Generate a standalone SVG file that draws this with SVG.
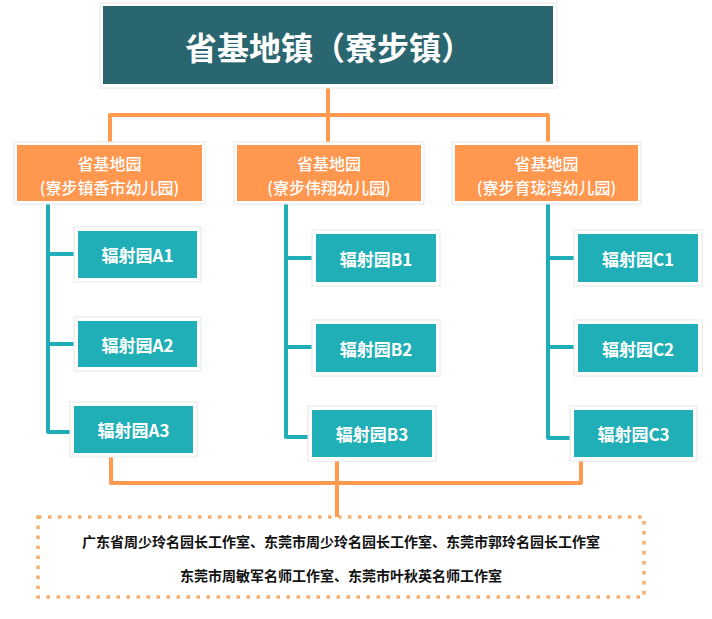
<svg xmlns="http://www.w3.org/2000/svg" width="712" height="619" viewBox="0 0 712 619">
<style>
.frame{fill:#ffffff;stroke:#e6e6e6;stroke-width:1}
.top{fill:#2a6670}
.org{fill:#ff974f}
.teal{fill:#20afb6}
.t{font-family:"Noto Sans CJK SC","Noto Sans",sans-serif;fill:#ffffff;text-anchor:middle;dominant-baseline:central}
.tt{font-size:32px;font-weight:bold}
.to{font-size:16px;font-weight:500}
.tb{font-size:17px;font-weight:bold}
.bt{font-family:"Noto Sans CJK SC","Noto Sans",sans-serif;fill:#111111;text-anchor:middle;dominant-baseline:central;font-size:14px;font-weight:bold}
.co{fill:none;stroke:#ff9a4f;stroke-width:4;stroke-linejoin:round;stroke-linecap:butt}
.ct{fill:none;stroke:#20afb6;stroke-width:4;stroke-linejoin:round;stroke-linecap:butt}
.dot{fill:none;stroke:#f6ad6e;stroke-width:3.5;stroke-dasharray:3.5 6.5}
</style>
<g id="connectors">
<path class="co" d="M328,86 V115 M110,143 V115 H548 V143 M328,115 V143"/>
<path class="ct" d="M48,202 V432 H76 M48,254 H78 M48,344 H78"/>
<path class="ct" d="M286,202 V437 H314 M286,258 H316 M286,347 H316"/>
<path class="ct" d="M548,202 V438 H576 M548,258 H578 M548,347 H578"/>
<path class="co" d="M111,455 V483 H581 V459 M337,459 V517"/>
</g>
<g id="root">
<rect class="frame" x="100" y="3" width="457" height="85"/>
<rect class="top" x="103" y="6" width="450" height="78"/>
<text class="t tt" x="329" y="46">省基地镇（寮步镇）</text>
</g>
<g id="kgA">
<rect class="frame" x="14" y="142" width="191" height="62"/>
<rect class="org" x="17" y="145" width="185" height="56"/>
<text class="t to" x="109.5" y="163.2">省基地园</text>
<text class="t to" x="109.5" y="186.6">(寮步镇香市幼儿园)</text>
</g>
<g id="kgB">
<rect class="frame" x="234" y="142" width="190" height="62"/>
<rect class="org" x="237" y="145" width="184" height="56"/>
<text class="t to" x="329" y="163.2">省基地园</text>
<text class="t to" x="329" y="186.6">(寮步伟翔幼儿园)</text>
</g>
<g id="kgC">
<rect class="frame" x="452" y="142" width="189" height="62"/>
<rect class="org" x="455" y="145" width="183" height="56"/>
<text class="t to" x="546.5" y="163.2">省基地园</text>
<text class="t to" x="546.5" y="186.6">(寮步育珑湾幼儿园)</text>
</g>
<g id="A1"><rect class="frame" x="74" y="227" width="127" height="55"/><rect class="teal" x="78" y="231" width="119" height="47"/><text class="t tb" x="137.5" y="254">辐射园A1</text></g>
<g id="A2"><rect class="frame" x="74" y="317" width="127" height="54"/><rect class="teal" x="78" y="321" width="119" height="46"/><text class="t tb" x="137.5" y="344">辐射园A2</text></g>
<g id="A3"><rect class="frame" x="70" y="402" width="127" height="55"/><rect class="teal" x="74" y="406" width="119" height="47"/><text class="t tb" x="133.5" y="429">辐射园A3</text></g>
<g id="B1"><rect class="frame" x="312" y="230" width="128" height="56"/><rect class="teal" x="316" y="234" width="120" height="48"/><text class="t tb" x="376" y="258">辐射园B1</text></g>
<g id="B2"><rect class="frame" x="312" y="320" width="128" height="56"/><rect class="teal" x="316" y="324" width="120" height="48"/><text class="t tb" x="376" y="348">辐射园B2</text></g>
<g id="B3"><rect class="frame" x="308" y="406" width="128" height="55"/><rect class="teal" x="312" y="410" width="120" height="47"/><text class="t tb" x="372" y="433">辐射园B3</text></g>
<g id="C1"><rect class="frame" x="574" y="230" width="128" height="56"/><rect class="teal" x="578" y="234" width="120" height="48"/><text class="t tb" x="638" y="258">辐射园C1</text></g>
<g id="C2"><rect class="frame" x="574" y="320" width="128" height="56"/><rect class="teal" x="578" y="324" width="120" height="48"/><text class="t tb" x="638" y="348">辐射园C2</text></g>
<g id="C3"><rect class="frame" x="570" y="406" width="127" height="55"/><rect class="teal" x="574" y="410" width="119" height="47"/><text class="t tb" x="633.5" y="433">辐射园C3</text></g>
<g id="studios">
<rect class="dot" x="38" y="517" width="606" height="80"/>
<text class="bt" x="341" y="541">广东省周少玲名园长工作室、东莞市周少玲名园长工作室、东莞市郭玲名园长工作室</text>
<text class="bt" x="341" y="575">东莞市周敏军名师工作室、东莞市叶秋英名师工作室</text>
</g>
</svg>
